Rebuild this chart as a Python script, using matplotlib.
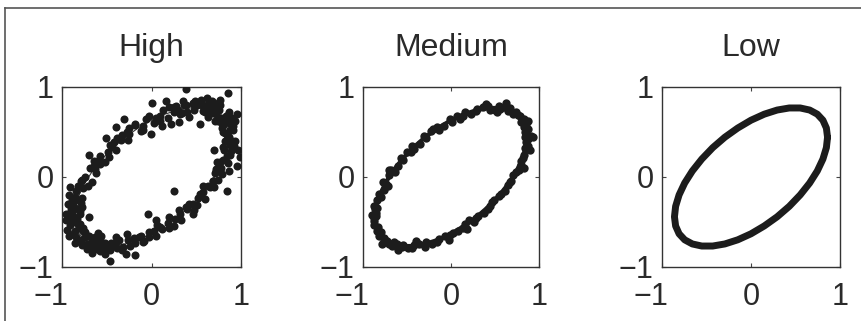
import matplotlib
matplotlib.use("Agg")
import matplotlib.pyplot as plt
from matplotlib.lines import Line2D
from matplotlib.transforms import ScaledTranslation

titles = ["High", "Medium", "Low"]
ticks = [-1, 0, 1]
tick_labels = ["\u22121", "0", "1"]

# underlying ellipse (every 10 degrees)
curve_x = [0.860, 0.847, 0.808, 0.745, 0.659, 0.553, 0.430, 0.294, 0.149, 0.000,
           -0.149, -0.294, -0.430, -0.553, -0.659, -0.745, -0.808, -0.847,
           -0.860, -0.847, -0.808, -0.745, -0.659, -0.553, -0.430, -0.294, -0.149, 0.000,
           0.149, 0.294, 0.430, 0.553, 0.659, 0.745, 0.808, 0.847]
curve_y = [0.442, 0.544, 0.631, 0.698, 0.744, 0.767, 0.767, 0.744, 0.698, 0.631,
           0.544, 0.442, 0.326, 0.199, 0.067, -0.067, -0.199, -0.326,
           -0.442, -0.544, -0.631, -0.698, -0.744, -0.767, -0.767, -0.744, -0.698, -0.631,
           -0.544, -0.442, -0.326, -0.199, -0.067, 0.067, 0.199, 0.326]

high_x = [0.90, 0.82, 0.88, 0.80, 0.91, 0.84, 0.76, 0.85, 0.79, 0.71, 0.78, 0.73,
          0.62, 0.69, 0.64, 0.51, 0.58, 0.55, 0.40, 0.46, 0.38, 0.27, 0.32, 0.25,
          0.13, 0.18, 0.10, -0.03, 0.03, 0.05, -0.18, -0.12, -0.10, -0.33, -0.26, -0.27,
          -0.46, -0.40, -0.42, -0.58, -0.52, -0.57, -0.69, -0.62, -0.64, -0.78, -0.71, -0.77,
          -0.84, -0.78, -0.86, -0.88, -0.82, -0.90, -0.89, -0.83, -0.80, -0.88, -0.81, -0.86,
          -0.84, -0.77, -0.79, -0.72, -0.78, -0.70, -0.63, -0.69, -0.61, -0.52, -0.58, -0.50,
          -0.40, -0.46, -0.38, -0.26, -0.32, -0.24, -0.12, -0.18, -0.10, 0.03, -0.03, 0.05,
          0.18, 0.12, 0.19, 0.32, 0.26, 0.33, 0.46, 0.40, 0.47, 0.58, 0.52, 0.60,
          0.69, 0.63, 0.70, 0.78, 0.71, 0.79, 0.84, 0.77, 0.85, 0.88, 0.81, 0.89,
          0.39, 0.85, 0.01, 0.16, 0.25, 0.35, 0.46, 0.57, 0.68, 0.77, 0.87, 0.95,
          0.82, 0.72, 0.63, 0.54, 0.42, 0.31, 0.22, 0.12, -0.01, -0.10, -0.18, -0.31,
          -0.25, -0.40, -0.34, -0.44, -0.51, -0.49, -0.59, -0.70, -0.63, -0.74, -0.79, -0.91,
          -0.85, -0.93, -0.78, -0.96, -0.87, -0.70, -0.94, -0.74, -0.63, -0.70, -0.55, -0.46,
          -0.29, -0.18, -0.40, -0.27, -0.14, -0.03, 0.09, -0.04, 0.05, 0.20, 0.25, 0.31,
          0.42, 0.46, 0.54, 0.65, 0.69, 0.72, 0.72, 0.80, 0.84, 0.87, 0.97, 0.99,
          0.80, 0.70, 0.87, 0.91,
          -0.92, -0.89, -0.95, -0.91, -0.92, -0.85, -0.66, -0.59, -0.52, -0.67, -0.60, -0.80,
          0.93, 0.90, 0.76, 0.62, 0.71, 0.93, 0.95, 0.92,
          0.80, 0.87, 0.74, 0.68, 0.60, 0.49, 0.34, 0.20, 0.09, -0.06, -0.25, -0.38,
          -0.47, -0.64, -0.67, -0.82, -0.79, -0.90, -0.82, -0.88, -0.74, -0.66, -0.57, -0.45,
          -0.33, -0.20, -0.08, 0.06, 0.25, 0.38, 0.51, 0.57, 0.74, 0.73, 0.88, 0.82,
          0.75, 0.66, 0.58, 0.83, 0.79, 0.90, 0.70, 0.48, 0.36, 0.30,
          -0.86, -0.80, -0.90, -0.76, -0.82, -0.72, -0.62, -0.56, -0.44, -0.36, -0.93, -0.84]
high_y = [0.40, 0.49, 0.52, 0.58, 0.57, 0.47, 0.66, 0.69, 0.59, 0.74, 0.66, 0.78,
          0.78, 0.71, 0.83, 0.80, 0.73, 0.86, 0.72, 0.82, 0.80, 0.79, 0.70, 0.72,
          0.75, 0.66, 0.68, 0.68, 0.60, 0.66, 0.58, 0.51, 0.57, 0.47, 0.41, 0.50,
          0.36, 0.30, 0.39, 0.23, 0.17, 0.14, 0.10, 0.04, 0.12, -0.03, -0.10, -0.12,
          -0.16, -0.23, -0.25, -0.29, -0.36, -0.37, -0.40, -0.47, -0.41, -0.50, -0.57, -0.60,
          -0.67, -0.60, -0.70, -0.74, -0.76, -0.66, -0.70, -0.79, -0.80, -0.73, -0.82, -0.80,
          -0.72, -0.81, -0.79, -0.70, -0.78, -0.77, -0.66, -0.73, -0.72, -0.60, -0.67, -0.66,
          -0.51, -0.58, -0.57, -0.41, -0.47, -0.48, -0.30, -0.36, -0.37, -0.17, -0.23, -0.24,
          -0.04, -0.10, -0.11, 0.10, 0.04, 0.03, 0.23, 0.17, 0.16, 0.36, 0.30, 0.29,
          0.98, 0.93, 0.82, 0.84, 0.78, 0.85, 0.81, 0.80, 0.85, 0.80, 0.72, 0.70,
          0.63, 0.70, 0.67, 0.59, 0.67, 0.61, 0.59, 0.57, 0.48, 0.52, 0.59, 0.65,
          0.48, 0.56, 0.41, 0.33, 0.43, 0.28, 0.19, 0.24, 0.09, 0.00, -0.04, -0.11,
          -0.22, -0.30, -0.33, -0.41, -0.44, -0.44, -0.59, -0.61, -0.67, -0.74, -0.78, -0.93,
          -0.85, -0.87, -0.67, -0.63, -0.67, -0.61, -0.56, -0.41, -0.48, -0.44, -0.15, -0.37,
          -0.30, -0.41, -0.19, -0.11, -0.04, 0.09, 0.07, 0.19, -0.15, 0.07, 0.30, 0.22,
          0.33, 0.30, 0.44, 0.52,
          -0.20, -0.26, -0.48, -0.53, -0.66, -0.73, -0.84, -0.74, -0.86, -0.70, -0.62, -0.52,
          0.62, 0.66, 0.86, 0.88, 0.62, 0.40, 0.12, 0.35,
          0.50, 0.60, 0.62, 0.78, 0.72, 0.84, 0.71, 0.78, 0.62, 0.64, 0.54, 0.43,
          0.22, 0.18, -0.05, -0.10, -0.29, -0.45, -0.52, -0.63, -0.67, -0.77, -0.70, -0.73,
          -0.81, -0.68, -0.71, -0.53, -0.54, -0.33, -0.31, -0.10, -0.03, 0.17, 0.24, 0.40,
          0.75, 0.73, 0.79, 0.68, 0.54, 0.60, 0.82, 0.75, 0.80, 0.74,
          -0.34, -0.38, -0.33, -0.57, -0.70, -0.80, -0.76, -0.66, -0.76, -0.70, -0.42, -0.46]

medium_x = [0.88, 0.83, 0.83, 0.74, 0.67, 0.54, 0.44, 0.30, 0.14, -0.01, -0.14, -0.31,
            -0.42, -0.57, -0.64, -0.77, -0.80, -0.87, -0.88, -0.83, -0.82, -0.73, -0.67, -0.54,
            -0.44, -0.28, -0.16, 0.02, 0.14, 0.31, 0.42, 0.57, 0.65, 0.77, 0.80, 0.87,
            0.84, 0.85, 0.78, 0.71, 0.60, 0.50, 0.36, 0.23, 0.07, -0.08, -0.23, -0.35,
            -0.50, -0.60, -0.71, -0.76, -0.84, -0.85, -0.87, -0.84, -0.76, -0.71, -0.61, -0.49,
            -0.36, -0.22, -0.07, 0.08, 0.21, 0.37, 0.49, 0.61, 0.70, 0.79, 0.83, 0.85,
            0.91, 0.88, 0.62, 0.40, 0.10, -0.20, -0.46, -0.70, -0.90, -0.86, -0.78, -0.60,
            -0.30, -0.02, 0.26, 0.47, 0.68, 0.83, 0.90, -0.40, 0.52, -0.72, 0.18, 0.93,
            0.84, 0.87, 0.80, 0.76, 0.65, 0.56, 0.42, 0.28, 0.16, 0.01, -0.16, -0.28,
            -0.44, -0.54, -0.68, -0.74, -0.82, -0.84, -0.85, -0.87, -0.80, -0.76, -0.65, -0.56,
            -0.42, -0.30, -0.14, -0.01, 0.16, 0.28, 0.44, 0.54, 0.67, 0.74, 0.82, 0.84]
medium_y = [0.42, 0.56, 0.64, 0.72, 0.77, 0.79, 0.75, 0.76, 0.68, 0.65, 0.52, 0.46,
            0.31, 0.21, 0.06, -0.05, -0.22, -0.32, -0.45, -0.55, -0.66, -0.71, -0.77, -0.75,
            -0.79, -0.72, -0.72, -0.62, -0.57, -0.43, -0.35, -0.19, -0.09, 0.08, 0.18, 0.34,
            0.50, 0.59, 0.68, 0.70, 0.78, 0.75, 0.78, 0.70, 0.68, 0.57, 0.51, 0.37,
            0.28, 0.12, 0.02, -0.14, -0.25, -0.40, -0.49, -0.60, -0.68, -0.74, -0.74, -0.79,
            -0.74, -0.74, -0.65, -0.60, -0.48, -0.40, -0.25, -0.15, 0.02, 0.13, 0.25, 0.39,
            0.46, 0.62, 0.82, 0.81, 0.64, 0.53, 0.28, 0.08, -0.42, -0.36, -0.74, -0.81,
            -0.78, -0.70, -0.50, -0.28, -0.04, 0.10, 0.30, -0.71, 0.72, -0.10, -0.58, 0.44,
            0.45, 0.53, 0.61, 0.69, 0.73, 0.76, 0.79, 0.73, 0.72, 0.61, 0.56, 0.43,
            0.35, 0.19, 0.08, -0.08, -0.19, -0.34, -0.43, -0.53, -0.61, -0.69, -0.72, -0.78,
            -0.76, -0.76, -0.69, -0.64, -0.52, -0.46, -0.32, -0.21, -0.06, 0.06, 0.21, 0.32]

# Low noise: points lie practically on the ellipse
low_x = curve_x
low_y = curve_y

W, H = 861, 321
fig = plt.figure(figsize=(W / 100, H / 100), dpi=100)
plt.rcParams['font.family'] = ['Liberation Sans', 'DejaVu Sans']

# axes boxes in pixels (left, right), common top/bottom
boxes = [(62, 241), (363, 539), (662, 840)]
top, bottom = 87, 267

dot = '#1c1c1c'
txt = '#2a2a2a'

for i, (l, r) in enumerate(boxes):
    ax = fig.add_axes([l / W, 1 - bottom / H, (r - l) / W, (bottom - top) / H])
    ax.set_xlim(-1, 1)
    ax.set_ylim(-1, 1)
    if i == 0:
        ax.plot(curve_x + curve_x[:1], curve_y + curve_y[:1], color='#333333', lw=0.8, zorder=2)
        ax.plot(high_x, high_y, 'o', ms=5.8, mew=0, color=dot, zorder=3)
    elif i == 1:
        ax.plot(curve_x + curve_x[:1], curve_y + curve_y[:1], color=dot, lw=3.0, zorder=2)
        ax.plot(medium_x, medium_y, 'o', ms=6.0, mew=0, color=dot, zorder=3)
    else:
        ax.plot(low_x + low_x[:1], low_y + low_y[:1], '-', lw=5.0, color=dot,
                solid_joinstyle='round', solid_capstyle='round', zorder=3)
    ax.set_xticks(ticks)
    ax.set_yticks(ticks)
    ax.set_xticklabels(tick_labels)
    ax.set_yticklabels(tick_labels)
    ax.tick_params(direction='in', length=3, width=0.8, top=True, right=True,
                   labelsize=22, colors='#444444', labelcolor=txt)
    ax.tick_params(axis='x', pad=11)
    ax.tick_params(axis='y', pad=6)
    lab = ax.get_xticklabels()[0]
    lab.set_transform(lab.get_transform() + ScaledTranslation(-11 / 100, 0, fig.dpi_scale_trans))
    for s in ax.spines.values():
        s.set_color('#333333')
        s.set_linewidth(1.0)
    ax.set_title(titles[i], fontsize=23, color=txt, pad=22)

# outer frame lines (top and left)
fig.add_artist(Line2D([5 / W, 1], [1 - 8 / H, 1 - 8 / H], transform=fig.transFigure,
                      color='#555555', lw=1.2))
fig.add_artist(Line2D([5 / W, 5 / W], [0, 1 - 8 / H], transform=fig.transFigure,
                      color='#555555', lw=1.2))

fig.savefig('out.png', dpi=100, facecolor='white')
